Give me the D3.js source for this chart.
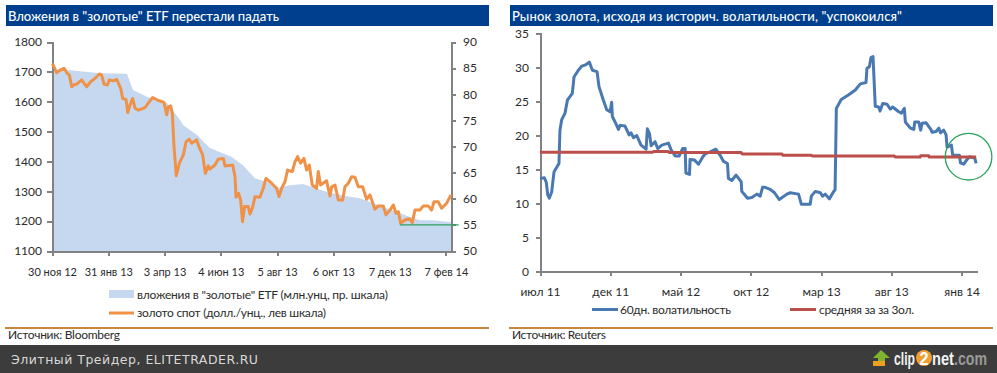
<!DOCTYPE html>
<html><head><meta charset="utf-8">
<script src="https://cdn.jsdelivr.net/npm/d3@7/dist/d3.min.js"></script>
<style>
html,body{margin:0;padding:0;background:#fff;overflow:hidden}
svg{display:block}
text{font-family:Lato,"Open Sans",sans-serif;fill:#2b2b2b}
.axis path,.axis line{stroke:#828282;stroke-width:2;shape-rendering:crispEdges}
.axis text{font-size:12px;fill:#2b2b2b}
.axis.small text{font-size:11px}
</style></head><body>
<svg id="c" width="997" height="373"></svg>
<script>
// ---- left chart data (trading-day index) ----
const etfDays=[0,14,37.5,58.6,63.3,74.3,89.9,100,102.4,113.4,123.5,140.7,149.3,158.7,168.1,176.7,186,196.2,204,215,230.6,240.8,248.6,258.8,270.5,279.9,287.7,297.9,312];
const etfValues=[84.4,84.6,84,83.9,80.8,79.5,78.3,75.1,74.1,72.2,69.7,68,66.4,63.9,63.2,62.1,62.6,62.8,62.2,61.3,60.5,60.1,59.4,58.4,57.4,56.5,55.9,55.9,55.5];
const goldDays=[0,1,3.6,6.3,9.4,12,13.6,15.4,17.2,19.3,23.2,27.1,30.2,33.6,37,38.8,40.7,43.3,44.8,48,50.6,53.7,55.3,57.9,59.2,61,63.1,64.9,67.5,72.7,75.3,78.7,83.1,87.6,89.7,91,92.8,94.1,95.4,97.2,99.6,102.7,104.8,107.4,109.2,113.1,115.2,117.8,119.9,122.2,123.5,127.4,130,134,135.3,141.3,143.1,143.9,145.9,147.5,149,150.6,153.5,154.8,156.9,158.7,162.6,165.2,167.3,171.7,175.6,177.5,179.6,182.2,184.2,187.9,190,192.1,194.4,197,199.1,201.2,203.5,206.9,208.2,210,214.7,217.4,218.7,221.3,223.9,227.3,229.1,231.7,234.3,236.9,239.5,242.9,246,248.6,252.5,255.1,259,261.1,264.3,266.9,269,270.8,272.6,276,279.4,281.7,283.8,287.7,290.3,294.2,296.8,298.7,302,304.7,308.6,312];
const goldValues=[1727,1723,1697,1706,1712,1695,1689,1650,1657,1659,1673,1650,1667,1678,1693,1689,1659,1656,1673,1670,1675,1645,1611,1608,1564,1589,1611,1578,1572,1580,1595,1614,1604,1598,1556,1583,1586,1561,1450,1352,1394,1422,1466,1474,1461,1472,1447,1422,1360,1385,1374,1388,1407,1410,1385,1388,1349,1280,1293,1271,1198,1249,1249,1224,1246,1282,1280,1310,1343,1327,1310,1282,1310,1332,1371,1366,1399,1416,1394,1410,1371,1388,1321,1310,1366,1321,1335,1284,1315,1321,1271,1271,1315,1327,1349,1347,1315,1315,1273,1288,1240,1251,1251,1221,1237,1254,1226,1232,1193,1204,1208,1195,1237,1237,1251,1251,1237,1265,1265,1243,1260,1288];
const levelDays=[272,318];
const levelValues=[55,55];
const leftTickDays=[0,44,88,132,176,220,264,308];
const leftTickLabels=["30 ноя 12","31 янв 13","3 апр 13","4 июн 13","5 авг 13","6 окт 13","7 дек 13","7 фев 14"];
const goldTicks=[1100,1200,1300,1400,1500,1600,1700,1800];
const etfTicks=[50,55,60,65,70,75,80,85,90];
// ---- right chart data (months since Jul 2011) ----
const volMonths=[0,.31,.45,.55,.66,.83,1,1.35,1.42,1.54,1.78,1.95,2.3,2.42,2.73,2.97,3.25,3.51,3.73,4.06,4.2,4.51,4.75,4.99,5.1,5.15,5.34,5.58,5.7,6.05,6.34,6.48,6.65,6.89,7.19,7.55,7.64,7.79,7.91,8.19,8.38,8.67,9.14,9.33,9.62,9.9,10.16,10.33,10.38,10.64,10.68,11,11.28,11.59,11.75,12.11,12.51,12.82,13.06,13.34,13.41,13.65,13.96,14.32,14.36,14.77,15.08,15.43,15.67,15.84,16.03,16.38,16.69,17.03,17.57,17.81,18.4,18.6,19.23,19.31,19.59,19.95,20.11,20.3,20.59,20.9,21,21.09,21.44,21.97,22.44,22.8,23.2,23.27,23.44,23.56,23.7,23.86,24.1,24.2,24.39,24.7,24.93,25.1,25.53,25.72,25.93,26,26.36,26.6,26.67,26.95,27.09,27.19,27.47,27.85,27.9,28.19,28.38,28.5,28.73,28.9,28.97,29.28,29.37,29.85,29.92,30.16,30.39,30.56,30.94,31.04];
const volValues=[13.7,13.8,13.1,11.3,10.8,11.7,14.7,15.9,20.8,22.3,23.3,25.2,26.2,28.6,29.6,30.2,30.4,30.8,29.6,29.4,27.2,25.2,23.8,23.5,24.9,22.8,22,20.9,21.5,21.4,20.1,20.4,19.7,20,18.6,18,21,20.3,18.5,19.1,18.1,18.6,18.9,17.9,17,17,18.1,18.1,14.5,14.3,16.5,16.4,15.8,16.9,17.3,17.6,18,17.1,16.2,15.9,13.7,13.4,14.2,13.2,11.8,10.8,10.9,11.4,11.1,12.4,12.4,12.1,11.6,10.6,11.4,11.6,11.4,9.9,9.9,11.1,11.8,11.6,11.1,11.4,10.7,11.8,12,24,25.3,26,26.7,27.6,27.8,29.9,30.1,31.5,31.6,24.3,24.2,23.6,24.7,24.6,23.9,24.2,23.5,23.3,24,22,21.1,20.9,22,22,20.8,21.8,21.9,20.8,20.5,20.6,21.1,20.4,20.8,20.1,18.3,18.6,17.1,17.1,16,15.8,16.5,16.9,16.7,15.9];
const avgMonths=[0,8,8.1,9.1,9.2,14.3,14.4,17.2,17.3,19.3,19.4,25.2,25.3,27.05,27.1,27.65,27.7,31.04];
const avgValues=[17.55,17.55,17.68,17.68,17.53,17.53,17.3,17.3,17.1,17.1,17,17,16.85,16.85,17.05,17.05,16.85,16.85];
const rightTickMonths=[0,5,10,15,20,25,30];
const rightTickLabels=["июл 11","дек 11","май 12","окт 12","мар 13","авг 13","янв 14"];
const volTicks=[0,5,10,15,20,25,30,35];
const highlightMonth=30.5, highlightValue=16.9;

const svg=d3.select("#c");
const navy="#003f8e", rule="#c8873f", goldC="#ef9248", etfC="#c6d8f0", blueC="#4a78b0", redC="#bb4f4c", greenC="#2ca25f";

function header(x,w,t,len){
  svg.append("rect").attr("x",x).attr("y",5).attr("width",w).attr("height",21).attr("fill",navy);
  svg.append("text").attr("x",x+2).attr("y",20.5).attr("textLength",len).text(t).style("fill","#fff").style("font-size","13px").style("font-weight",500);
}
function footer(x,w,t,len){
  svg.append("rect").attr("x",x).attr("y",327).attr("width",w).attr("height",2).attr("fill",rule);
  svg.append("text").attr("x",x+3).attr("y",339).attr("textLength",len).text(t).style("font-size","12px");
}
header(6,483,'Вложения в "золотые" ETF перестали падать',271);
header(510,483,'Рынок золота, исходя из историч. волатильности, "успокоился"',390);
footer(5,484,"Источник: Bloomberg",112);
footer(509,484,"Источник: Reuters",94);

// left chart
const xL=d3.scaleLinear().domain([0,312]).range([52,451]);
const yG=d3.scaleLinear().domain([1100,1800]).range([251,42]);
const yE=d3.scaleLinear().domain([50,90]).range([251,42]);
svg.append("path").attr("fill",etfC)
  .attr("d",d3.area().x(i=>xL(etfDays[i])).y0(yE(50)).y1(i=>yE(etfValues[i]))(d3.range(etfDays.length)));
svg.append("g").attr("class","axis").attr("transform","translate(52,0)")
  .call(d3.axisLeft(yG).tickValues(goldTicks).tickSize(5).tickSizeOuter(5).tickPadding(5).tickFormat(d3.format("d")));
svg.append("g").attr("class","axis").attr("transform","translate(451,0)")
  .call(d3.axisRight(yE).tickValues(etfTicks).tickSize(5).tickSizeOuter(5).tickPadding(7).tickFormat(d3.format("d")));
svg.append("g").attr("class","axis small").attr("transform","translate(0,251)")
  .call(d3.axisBottom(xL).tickValues(leftTickDays).tickSize(5).tickSizeOuter(0).tickPadding(12).tickFormat((d,i)=>leftTickLabels[i]));
svg.append("path").attr("fill","none").attr("stroke",goldC).attr("stroke-width",3).attr("stroke-linejoin","round")
  .attr("d",d3.line().x(i=>xL(goldDays[i])).y(i=>yG(goldValues[i]))(d3.range(goldDays.length)));
svg.append("path").attr("fill","none").attr("stroke",greenC).attr("stroke-width",1.3)
  .attr("d",d3.line().x(i=>xL(levelDays[i])).y(i=>yE(levelValues[i]))(d3.range(levelDays.length)));

// right chart
const xR=d3.scaleLinear().domain([0,31.1]).range([540,977]);
const yV=d3.scaleLinear().domain([0,35]).range([271.7,33.5]);
svg.append("g").attr("class","axis").attr("transform","translate(540,0)")
  .call(d3.axisLeft(yV).tickValues(volTicks).tickSize(4).tickSizeOuter(4).tickPadding(7).tickFormat(d3.format("d")));
svg.append("g").attr("class","axis").attr("transform","translate(0,271.7)")
  .call(d3.axisBottom(xR).tickValues(rightTickMonths).tickSize(4).tickSizeOuter(0).tickPadding(12).tickFormat((d,i)=>rightTickLabels[i]));
svg.append("path").attr("fill","none").attr("stroke",blueC).attr("stroke-width",3).attr("stroke-linejoin","round")
  .attr("d",d3.line().x(i=>xR(volMonths[i])).y(i=>yV(volValues[i]))(d3.range(volMonths.length)));
svg.append("path").attr("fill","none").attr("stroke",redC).attr("stroke-width",3)
  .attr("d",d3.line().x(i=>xR(avgMonths[i])).y(i=>yV(avgValues[i]))(d3.range(avgMonths.length)));
svg.append("circle").attr("cx",xR(highlightMonth)).attr("cy",yV(highlightValue)).attr("r",23.3)
  .attr("fill","none").attr("stroke",greenC).attr("stroke-width",1.3);

// legends
const lt=(x,y,t,len)=>svg.append("text").attr("x",x).attr("y",y).attr("textLength",len).text(t).style("font-size","12px");
svg.append("rect").attr("x",109).attr("y",290).attr("width",25).attr("height",8).attr("fill",etfC);
lt(137,299,'вложения в "золотые" ETF (млн.унц,  пр. шкала)',251);
svg.append("line").attr("x1",109).attr("x2",134).attr("y1",313).attr("y2",313).attr("stroke",goldC).attr("stroke-width",3);
lt(137,317,'золото спот (долл./унц.,  лев шкала)',189);
svg.append("line").attr("x1",592).attr("x2",618).attr("y1",309.5).attr("y2",309.5).attr("stroke",blueC).attr("stroke-width",3);
lt(620,314,'60дн. волатильность',111);
svg.append("line").attr("x1",790).attr("x2",816).attr("y1",309.5).attr("y2",309.5).attr("stroke",redC).attr("stroke-width",3);
lt(819,314,'средняя за за 3ол.',95);

// watermark bar
svg.append("rect").attr("x",0).attr("y",345).attr("width",997).attr("height",28).attr("fill","#3c3c3c");
svg.append("text").attr("x",11).attr("y",364).attr("textLength",247).text("Элитный Трейдер, ELITETRADER.RU")
  .style("font-family","'DejaVu Sans'").style("font-size","12.5px").style("fill","#d8d8d8");
svg.append("path").attr("d","M881 350 L890 358 L885 358 L885 366 L873 366 L873 361 L878 361 L878 358 L873 358 Z").attr("fill","#7fb52e");
svg.append("rect").attr("x",873).attr("y",361).attr("width",12).attr("height",5).attr("fill","#f0a020");
const logo=(x,t,c,len)=>svg.append("text").attr("x",x).attr("y",365).attr("textLength",len).attr("lengthAdjust","spacingAndGlyphs").text(t)
  .style("font-family","'Liberation Sans'").style("font-size","18px").style("font-weight",700).style("fill",c);
logo(894,"clip","#f2f2f2",21);
svg.append("circle").attr("cx",924).attr("cy",358).attr("r",8).attr("fill","#f0a030");
logo(919.5,"2","#ffffff",9);
logo(932,"net","#f2f2f2",22);
logo(954,".com","#9a9a9a",33);
</script>
</body></html>
